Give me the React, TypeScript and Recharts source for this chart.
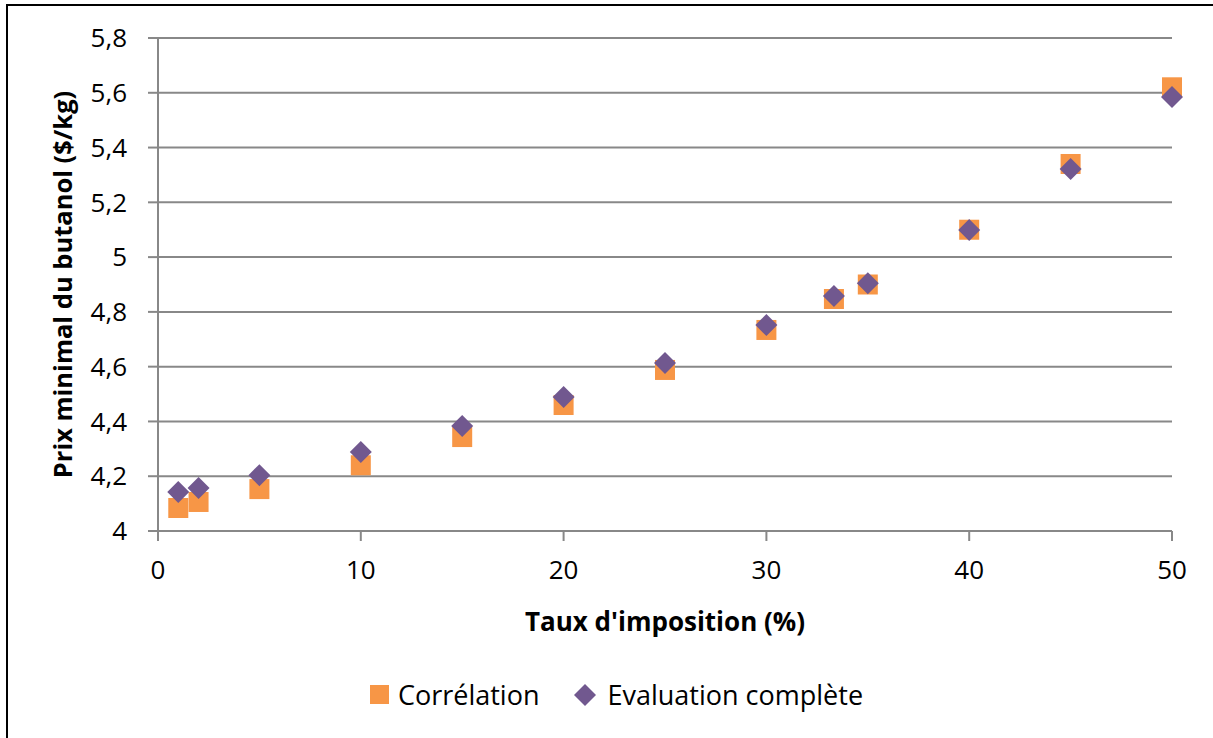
import { ScatterChart, Scatter, XAxis, YAxis, CartesianGrid, Legend, Label } from 'recharts'

// Taux d'imposition (%)
const tauxImposition = [1, 2, 5, 10, 15, 20, 25, 30, 33.33, 35, 40, 45, 50]
// Prix minimal ($/kg) - corrélation
const prixCorrelation = [4.084, 4.106, 4.153, 4.24, 4.343, 4.46, 4.588, 4.734, 4.847, 4.9, 5.1, 5.34, 5.62]
// Prix minimal ($/kg) - évaluation complète
const prixEvaluation = [4.142, 4.157, 4.204, 4.288, 4.383, 4.489, 4.613, 4.752, 4.858, 4.905, 5.099, 5.322, 5.585]

const xTicks = [0, 10, 20, 30, 40, 50]
const yTicks = [4, 4.2, 4.4, 4.6, 4.8, 5, 5.2, 5.4, 5.6, 5.8]

const ORANGE = '#F79646'
const PURPLE = '#71588F'
const GRID = '#888888'
const FONT = '"Open Sans", sans-serif'

const correlationData = tauxImposition.map((x, i) => ({ x, y: prixCorrelation[i] }))
const evaluationData = tauxImposition.map((x, i) => ({ x, y: prixEvaluation[i] }))

const fmt = (v: number) => String(Number(v.toFixed(1))).replace('.', ',')

const Square = (props: any) => {
  const { cx, cy } = props
  return <rect x={cx - 10} y={cy - 10} width={20} height={20} fill={ORANGE} />
}

const Diamond = (props: any) => {
  const { cx, cy } = props
  const r = 11
  return <polygon points={`${cx},${cy - r} ${cx + r},${cy} ${cx},${cy + r} ${cx - r},${cy}`} fill={PURPLE} />
}

const YTitle = (props: any) => {
  const { viewBox } = props
  const x = viewBox.x + 24
  const y = viewBox.y + viewBox.height / 2
  return (
    <text x={x} y={y} transform={`rotate(-90, ${x}, ${y})`} textAnchor="middle" dominantBaseline="central"
      fontFamily={FONT} fontWeight="bold" fontSize={25.5} fill="#000">
      Prix minimal du butanol ($/kg)
    </text>
  )
}

const LegendContent = () => (
  <div style={{ display: 'flex', justifyContent: 'center', alignItems: 'center', fontFamily: FONT, fontSize: 27, color: '#000' }}>
    <span style={{ display: 'inline-block', width: 19, height: 19, background: ORANGE, marginRight: 9 }} />
    <span style={{ marginRight: 34 }}>Corrélation</span>
    <svg width={24} height={24} style={{ marginRight: 10 }}>
      <polygon points="12,1 23,12 12,23 1,12" fill={PURPLE} />
    </svg>
    <span>Evaluation complète</span>
  </div>
)

export default function App() {
  return (
    <div style={{ position: 'absolute', left: 0, top: 0, width: 1213, height: 738, background: '#fff' }}>
      <div style={{ position: 'absolute', left: 6, top: 4, width: 1220, height: 740, borderLeft: '2px solid #000', borderTop: '2px solid #000' }} />
      <ScatterChart width={1213} height={738} margin={{ top: 38, right: 41, left: 38, bottom: 107 }}
        style={{ position: 'absolute', left: 0, top: 0 }}>
        <CartesianGrid vertical={false} stroke={GRID} strokeWidth={2} />
        <XAxis type="number" dataKey="x" domain={[0, 50]} ticks={xTicks} height={100}
          stroke={GRID} strokeWidth={2} tickSize={10} tickMargin={20}
          tick={{ fill: '#000', fontSize: 26, fontFamily: FONT }}>
          <Label value="Taux d'imposition (%)" position="insideBottom" offset={0}
            style={{ fontFamily: FONT, fontWeight: 'bold', fontSize: 26, fill: '#000' }} />
        </XAxis>
        <YAxis type="number" dataKey="y" domain={[4, 5.8]} ticks={yTicks} width={120}
          stroke={GRID} strokeWidth={2} tickSize={10} tickMargin={21} tickFormatter={fmt}
          tick={{ fill: '#000', fontSize: 26, fontFamily: FONT }}>
          <Label content={YTitle} />
        </YAxis>
        <Legend verticalAlign="middle" content={LegendContent}
          wrapperStyle={{ position: 'absolute', top: 676, left: 10, width: 1213 }} />
        <Scatter name="Corrélation" data={correlationData} shape={Square} isAnimationActive={false} />
        <Scatter name="Evaluation complète" data={evaluationData} shape={Diamond} isAnimationActive={false} />
      </ScatterChart>
    </div>
  )
}
